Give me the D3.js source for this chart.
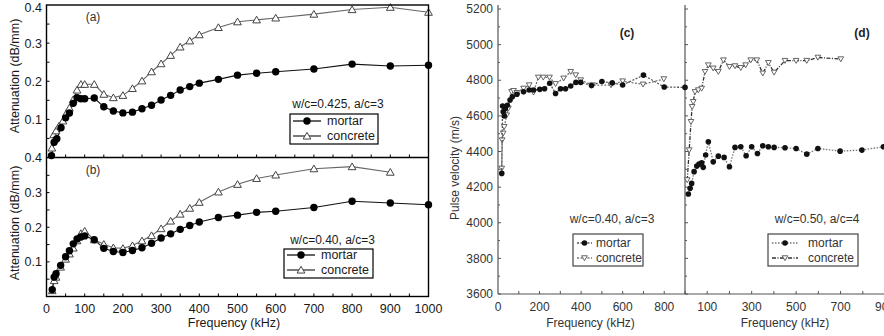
<!DOCTYPE html>
<html><head><meta charset="utf-8">
<script src="https://cdn.jsdelivr.net/npm/d3@7"></script>
<style>body{margin:0;background:#fff;} svg{display:block;font-family:"Liberation Sans",Arial,sans-serif;}</style>
</head><body><svg id="chart" width="884" height="336"></svg>
<script>
// ---------- Data: panel (a) attenuation, w/c=0.425, a/c=3 ----------
const freqAm = [13,20,27,38,50,60,70,80,90,100,125,150,175,200,225,250,275,300,325,350,375,400,450,500,550,600,700,800,900,1000];
const mortarA = [0.005,0.04,0.049,0.078,0.104,0.117,0.142,0.157,0.154,0.154,0.156,0.133,0.122,0.117,0.119,0.128,0.137,0.151,0.163,0.177,0.186,0.195,0.205,0.216,0.221,0.225,0.232,0.245,0.240,0.242];
const freqAc = [14,19,25,33,43,52,60,70,80,90,100,125,150,175,200,225,250,275,300,325,350,375,400,450,500,550,600,700,800,900,1000];
const concreteA = [0.025,0.06,0.07,0.083,0.096,0.116,0.13,0.152,0.177,0.192,0.192,0.192,0.166,0.157,0.163,0.181,0.201,0.225,0.246,0.268,0.29,0.306,0.322,0.341,0.356,0.361,0.366,0.376,0.388,0.394,0.381];
// ---------- Data: panel (b) attenuation, w/c=0.40, a/c=3 ----------
const freqBm = [15,20,25,37,50,60,70,80,90,100,125,150,175,200,225,250,275,300,325,350,375,400,450,500,550,600,700,800,900,1000];
const mortarB = [0.02,0.056,0.066,0.09,0.115,0.132,0.152,0.166,0.172,0.175,0.164,0.139,0.13,0.127,0.133,0.141,0.154,0.169,0.181,0.194,0.205,0.215,0.228,0.235,0.243,0.246,0.257,0.275,0.27,0.265];
const freqBc = [15,20,25,37,50,60,70,80,90,100,125,150,175,200,225,250,275,300,325,350,375,400,450,500,550,600,700,800,900];
const concreteB = [0.017,0.046,0.056,0.085,0.108,0.123,0.14,0.161,0.182,0.189,0.164,0.151,0.141,0.139,0.147,0.161,0.176,0.196,0.218,0.238,0.255,0.272,0.302,0.324,0.341,0.351,0.369,0.375,0.359];
// ---------- Data: panel (c) pulse velocity, w/c=0.40, a/c=3 ----------
const freqCm = [18,22,25,30,35,45,58,69,91,123,150,171,201,224,249,277,301,325,350,375,398,450,500,550,600,700,800,900];
const mortarC = [4277,4655,4623,4600,4640,4660,4689,4707,4721,4735,4745,4745,4749,4752,4783,4726,4752,4752,4768,4788,4788,4770,4793,4785,4773,4829,4762,4760];
const freqCc = [18,20,25,30,42,50,65,75,91,123,150,171,194,218,248,277,316,350,374,398,455,544,600,698,798];
const concreteC = [4305,4464,4502,4539,4604,4642,4735,4741,4730,4754,4773,4732,4816,4816,4816,4780,4811,4848,4829,4801,4773,4773,4795,4777,4807];
// ---------- Data: panel (d) pulse velocity, w/c=0.50, a/c=4 ----------
const freqDm = [15,23,30,41,53,63,75,82,93,105,127,150,176,200,225,251,275,300,326,350,375,401,450,500,548,598,698,796,893];
const mortarD = [4161,4193,4221,4287,4318,4329,4337,4311,4380,4455,4342,4374,4367,4314,4423,4427,4376,4427,4389,4432,4427,4423,4421,4417,4385,4417,4402,4408,4427];
const freqDc = [10,19,27,32,37,45,60,75,90,105,127,150,173,200,225,251,273,296,323,350,375,401,450,500,548,598,701];
const concreteD = [4240,4408,4567,4651,4679,4735,4745,4754,4848,4885,4867,4848,4913,4876,4880,4870,4885,4913,4913,4839,4898,4844,4910,4910,4910,4928,4919];
// ---------- Tick labels ----------
const attTicks = [0.1,0.2,0.3,0.4];
const freqTicksL = [0,100,200,300,400,500,600,700,800,900,1000];
const velTicks = [3600,3800,4000,4200,4400,4600,4800,5000,5200];
const freqTicksC = [0,200,400,600,800];
const freqTicksD = [100,300,500,700,900];

const zip = (xs, ys) => xs.map((x,i)=>[x, ys[i]]);
const svg = d3.select("#chart");
svg.append("rect").attr("width",884).attr("height",336).attr("fill","#fff");

// ================= LEFT CHART =================
const L = svg.append("g");
const xL = d3.scaleLinear().domain([0,1000]).range([46.5,428.5]);
const yA = d3.scaleLinear().domain([0,0.4]).range([157.5,5]);
const yB = d3.scaleLinear().domain([0,0.4]).range([296.5,158]);
const txtL = "#1a1a1a";

function leftPanel(ys, yTop, yBot, mF, mV, cF, cV, tag, cond, legY, legBox, condY) {
  d3.range(0, 1001, 50).forEach(f => {
    L.append("line").attr("x1", xL(f)).attr("x2", xL(f)).attr("y1", yBot).attr("y2", yBot-3)
      .attr("stroke","#000").attr("stroke-width",1);
  });
  d3.range(0.05, 0.4, 0.05).forEach(v => {
    L.append("line").attr("x1", xL.range()[0]).attr("x2", xL.range()[0]+3).attr("y1", ys(v)).attr("y2", ys(v))
      .attr("stroke","#000").attr("stroke-width",1);
  });
  attTicks.forEach(v => {
    const yy = Math.max(ys(v), 7.5);
    L.append("text").attr("x", 42).attr("y", yy).attr("dy","0.35em").attr("text-anchor","end")
      .attr("font-size",12.5).attr("fill",txtL).text(v.toFixed(1));
  });
  const line = d3.line().x(d=>xL(d[0])).y(d=>ys(d[1]));
  L.append("path").datum(zip(cF,cV)).attr("d",line).attr("fill","none").attr("stroke","#666").attr("stroke-width",1.1);
  L.append("path").datum(zip(mF,mV)).attr("d",line).attr("fill","none").attr("stroke","#111").attr("stroke-width",1.1);
  const tri = d3.symbol().type(d3.symbolTriangle).size(26);
  L.selectAll(null).data(zip(cF,cV)).enter().append("path").attr("d",tri)
    .attr("transform",d=>`translate(${xL(d[0])},${ys(d[1])+0.8})`)
    .attr("fill","#fff").attr("stroke","#444").attr("stroke-width",1);
  L.selectAll(null).data(zip(mF,mV)).enter().append("circle")
    .attr("cx",d=>xL(d[0])).attr("cy",d=>ys(d[1])).attr("r",3.7).attr("fill","#000");
  L.append("text").attr("x",93).attr("y",yTop+12).attr("dy","0.35em").attr("text-anchor","middle")
    .attr("font-size",12).attr("fill","#333").text(tag);
  L.append("text").attr("x",legBox[0]+ (legBox[2]-legBox[0])/2 + 4).attr("y",condY).attr("dy","0.35em").attr("text-anchor","middle")
    .attr("font-size",12).attr("fill",txtL).text(cond);
  L.append("rect").attr("x",legBox[0]).attr("y",legBox[1]).attr("width",legBox[2]-legBox[0]).attr("height",legBox[3]-legBox[1])
    .attr("fill","#fff").attr("stroke","#000").attr("stroke-width",1.2);
  const lx0 = legBox[0]+3, lx1 = legBox[0]+31, lm = (lx0+lx1)/2;
  L.append("line").attr("x1",lx0).attr("x2",lx1).attr("y1",legY[0]).attr("y2",legY[0]).attr("stroke","#111").attr("stroke-width",1.3);
  L.append("circle").attr("cx",lm).attr("cy",legY[0]).attr("r",3.7).attr("fill","#000");
  L.append("line").attr("x1",lx0).attr("x2",lx1).attr("y1",legY[1]).attr("y2",legY[1]).attr("stroke","#333").attr("stroke-width",1.3);
  L.append("path").attr("d",tri).attr("transform",`translate(${lm},${legY[1]+0.8})`).attr("fill","#fff").attr("stroke","#444");
  L.append("text").attr("x",legBox[0]+37).attr("y",legY[0]).attr("dy","0.35em").attr("font-size",12.5).attr("fill",txtL).text("mortar");
  L.append("text").attr("x",legBox[0]+37).attr("y",legY[1]).attr("dy","0.35em").attr("font-size",12.5).attr("fill",txtL).text("concrete");
}
leftPanel(yA, 5, 157.5, freqAm, mortarA, freqAc, concreteA, "(a)", "w/c=0.425, a/c=3", [121,136], [290,114,378,144], 104);
leftPanel(yB, 158, 296.5, freqBm, mortarB, freqBc, concreteB, "(b)", "w/c=0.40, a/c=3", [255,270], [284,249,373,278], 240);

L.append("rect").attr("x",46.5).attr("y",5).attr("width",382).attr("height",291.5).attr("fill","none").attr("stroke","#000").attr("stroke-width",1.4);
L.append("line").attr("x1",46.5).attr("x2",428.5).attr("y1",157.5).attr("y2",157.5).attr("stroke","#000").attr("stroke-width",1.4);
freqTicksL.forEach(f => {
  L.append("text").attr("x",xL(f)).attr("y",309).attr("dy","0.35em").attr("text-anchor","middle")
    .attr("font-size",12.5).attr("fill",txtL).text(f);
});
L.append("text").attr("x",234).attr("y",323).attr("dy","0.35em").attr("text-anchor","middle").attr("font-size",12.5).attr("fill",txtL).text("Frequency (kHz)");
L.append("text").attr("transform","translate(15,76) rotate(-90)").attr("dy","0.35em").attr("text-anchor","middle").attr("font-size",12.5).attr("fill",txtL).text("Attenuation (dB/mm)");
L.append("text").attr("transform","translate(15,223) rotate(-90)").attr("dy","0.35em").attr("text-anchor","middle").attr("font-size",12.5).attr("fill",txtL).text("Attenuation (dB/mm)");

// ================= RIGHT CHART =================
const R = svg.append("g");
const xC = d3.scaleLinear().domain([0,900]).range([498,685]);
const xD = d3.scaleLinear().domain([0,900]).range([685,885]);
const yR = d3.scaleLinear().domain([3600,5200]).range([294,9]);
const txtR = "#333";
const axC = "#555";

R.append("line").attr("x1",498).attr("x2",498).attr("y1",5).attr("y2",294).attr("stroke",axC).attr("stroke-width",1.2);
R.append("line").attr("x1",685).attr("x2",685).attr("y1",5).attr("y2",294).attr("stroke",axC).attr("stroke-width",1.2);
R.append("line").attr("x1",498).attr("x2",884).attr("y1",294).attr("y2",294).attr("stroke",axC).attr("stroke-width",1.2);
d3.range(3600,5201,100).forEach(v => {
  const len = v % 200 === 0 ? 3 : 2;
  R.append("line").attr("x1",498).attr("x2",498+len).attr("y1",yR(v)).attr("y2",yR(v)).attr("stroke",axC);
  R.append("line").attr("x1",685).attr("x2",685+len).attr("y1",yR(v)).attr("y2",yR(v)).attr("stroke",axC);
});
velTicks.forEach(v => {
  R.append("text").attr("x",493).attr("y",yR(v)).attr("dy","0.35em").attr("text-anchor","end").attr("font-size",12).attr("fill",txtR).text(v);
});
d3.range(100,901,100).forEach(f => {
  R.append("line").attr("x1",xC(f)).attr("x2",xC(f)).attr("y1",294).attr("y2",291).attr("stroke",axC);
  R.append("line").attr("x1",xD(f)).attr("x2",xD(f)).attr("y1",294).attr("y2",291).attr("stroke",axC);
});
freqTicksC.forEach(f => {
  R.append("text").attr("x",xC(f)).attr("y",307).attr("dy","0.35em").attr("text-anchor","middle").attr("font-size",12).attr("fill",txtR).text(f);
});
freqTicksD.forEach(f => {
  R.append("text").attr("x",xD(f)).attr("y",307).attr("dy","0.35em").attr("text-anchor","middle").attr("font-size",12).attr("fill",txtR).text(f);
});
R.append("text").attr("x",xC(450)-1).attr("y",323).attr("dy","0.35em").attr("text-anchor","middle").attr("font-size",12).attr("fill",txtR).text("Frequency (kHz)");
R.append("text").attr("x",xD(450)).attr("y",323).attr("dy","0.35em").attr("text-anchor","middle").attr("font-size",12).attr("fill",txtR).text("Frequency (kHz)");
R.append("text").attr("transform","translate(455,168) rotate(-90)").attr("dy","0.35em").attr("text-anchor","middle").attr("font-size",12).attr("fill",txtR).text("Pulse velocity (m/s)");
R.append("text").attr("x",627).attr("y",33).attr("dy","0.35em").attr("text-anchor","middle").attr("font-size",12).attr("font-weight","bold").attr("fill","#222").text("(c)");
R.append("text").attr("x",862).attr("y",33).attr("dy","0.35em").attr("text-anchor","middle").attr("font-size",12).attr("font-weight","bold").attr("fill","#222").text("(d)");

const triDown = d3.symbol().type(d3.symbolTriangle).size(14);
function velSeries(xs, F, V, stroke, dash, kind) {
  const line = d3.line().x(d=>xs(d[0])).y(d=>yR(d[1]));
  R.append("path").datum(zip(F,V)).attr("d",line).attr("fill","none").attr("stroke",stroke)
    .attr("stroke-width",1.3).attr("stroke-dasharray",dash);
  if (kind === "m") {
    R.selectAll(null).data(zip(F,V)).enter().append("circle")
      .attr("cx",d=>xs(d[0])).attr("cy",d=>yR(d[1])).attr("r",2.8).attr("fill","#111");
  } else {
    R.selectAll(null).data(zip(F,V)).enter().append("path").attr("d",triDown)
      .attr("transform",d=>`translate(${xs(d[0])},${yR(d[1])-0.6}) rotate(180)`)
      .attr("fill","#fff").attr("stroke","#555").attr("stroke-width",0.9);
  }
}
velSeries(xC, freqCc, concreteC, "#777", "2,1.5", "c");
velSeries(xC, freqCm, mortarC, "#555", "2,1.5", "m");
velSeries(xD, freqDc, concreteD, "#333", "4,1.5,1,1.5", "c");
velSeries(xD, freqDm, mortarD, "#777", "1.5,1.5", "m");

function velLegend(box, cond, lx0, lx1, tx, dashM, dashC, colM, colC) {
  R.append("text").attr("x",(box[0]+box[2])/2 + 4).attr("y",219).attr("dy","0.35em").attr("text-anchor","middle").attr("font-size",12).attr("fill",txtR).text(cond);
  R.append("rect").attr("x",box[0]).attr("y",box[1]).attr("width",box[2]-box[0]).attr("height",box[3]-box[1])
    .attr("fill","#fff").attr("stroke","#444").attr("stroke-width",1.2);
  const ys = [243, 258], lm = (lx0+lx1)/2;
  R.append("line").attr("x1",lx0).attr("x2",lx1).attr("y1",ys[0]).attr("y2",ys[0]).attr("stroke",colM).attr("stroke-width",1.3).attr("stroke-dasharray",dashM);
  R.append("circle").attr("cx",lm).attr("cy",ys[0]).attr("r",2.8).attr("fill","#111");
  R.append("line").attr("x1",lx0).attr("x2",lx1).attr("y1",ys[1]).attr("y2",ys[1]).attr("stroke",colC).attr("stroke-width",1.3).attr("stroke-dasharray",dashC);
  R.append("path").attr("d",triDown).attr("transform",`translate(${lm},${ys[1]-0.6}) rotate(180)`).attr("fill","#fff").attr("stroke","#555").attr("stroke-width",0.9);
  R.append("text").attr("x",tx).attr("y",ys[0]).attr("dy","0.35em").attr("font-size",12).attr("fill",txtR).text("mortar");
  R.append("text").attr("x",tx).attr("y",ys[1]).attr("dy","0.35em").attr("font-size",12).attr("fill",txtR).text("concrete");
}
velLegend([573,234,643,266], "w/c=0.40, a/c=3", 577, 592, 596, "2,1.5", "2,1.5", "#555", "#777");
velLegend([768,234,858,266], "w/c=0.50, a/c=4", 772, 798, 808, "1.5,1.5", "4,1.5,1,1.5", "#777", "#333");
</script></body></html>
